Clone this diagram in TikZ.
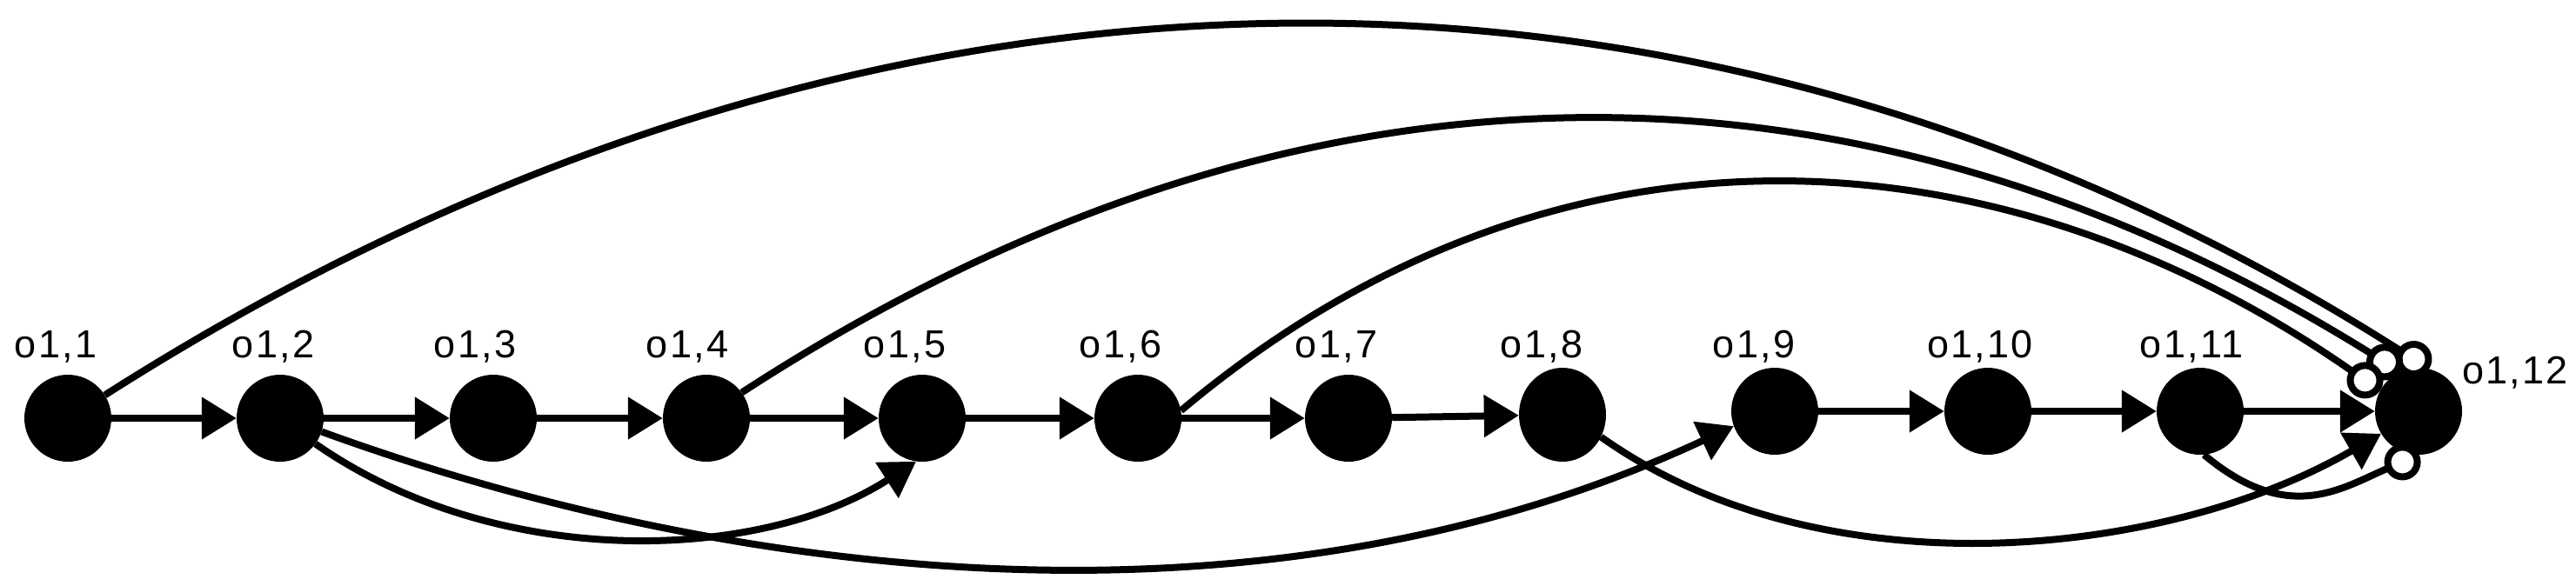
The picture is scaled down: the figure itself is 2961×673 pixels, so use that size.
\documentclass[tikz,border=0pt]{standalone}
\usepackage{fontspec}
\setmainfont{Liberation Sans}
\usetikzlibrary{arrows.meta,shapes.geometric}
\begin{document}
\begin{tikzpicture}[x=1pt,y=-1pt,
  vert/.style={circle,fill=black,inner sep=0pt,minimum size=100pt},
  lab/.style={inner sep=0pt,anchor=base,font=\fontsize{45pt}{52pt}\selectfont\addfontfeature{LetterSpace=5}},
  edge/.style={line width=8pt,-{Triangle[length=40pt,width=47pt]}},
  oedge/.style={line width=8pt,-{Circle[fill=white,length=42pt,width=42pt]}}]
\path[use as bounding box,fill=white] (0,0) rectangle (2961,673);
% vertices
\node[vert] (n1) at (78,481) {};
\node[vert] (n2) at (322,481) {};
\node[vert] (n3) at (567,481) {};
\node[vert] (n4) at (812,481) {};
\node[vert] (n5) at (1060,481) {};
\node[vert] (n6) at (1308,481) {};
\node[vert] (n7) at (1550,481) {};
\node[ellipse,fill=black,inner sep=0pt,minimum width=100pt,minimum height=108pt] (n8) at (1796,477) {};
\node[vert] (n9) at (2040,473) {};
\node[vert] (n10) at (2285,473) {};
\node[vert] (n11) at (2529,473) {};
\node[vert] (n12) at (2780,473) {};
% labels
\node[lab] (l1) at (64,411) {o1,1};
\node[lab] (l2) at (314,411) {o1,2};
\node[lab] (l3) at (546,411) {o1,3};
\node[lab] (l4) at (790,411) {o1,4};
\node[lab] (l5) at (1040,411) {o1,5};
\node[lab] (l6) at (1288,411) {o1,6};
\node[lab] (l7) at (1536,411) {o1,7};
\node[lab] (l8) at (1772,411) {o1,8};
\node[lab] (l9) at (2016,411) {o1,9};
\node[lab] (l10) at (2276,411) {o1,10};
\node[lab] (l11) at (2519,411) {o1,11};
\node[lab,anchor=base west] (l12) at (2830,441) {o1,12};
% straight chain
\draw[edge] (n1) -- (n2);
\draw[edge] (n2) -- (n3);
\draw[edge] (n3) -- (n4);
\draw[edge] (n4) -- (n5);
\draw[edge] (n5) -- (n6);
\draw[edge] (n6) -- (n7);
\draw[edge] (n7) -- (n8);
\draw[edge] (n9) -- (n10);
\draw[edge] (n10) -- (n11);
\draw[edge] (n11) -- (n12);
% long arcs above
\draw[oedge] (n1.32) .. controls (1010,-113) and (1966,-102) .. (n12.76);
\draw[oedge] (n4.36) .. controls (1516,20) and (2160,54) .. (n12.115);
\draw[oedge] (n6.10) .. controls (1806,95) and (2323,160) .. (n12.152);
% arcs below
\draw[edge] (n2.-36) .. controls (574,658) and (875,646) .. (n5.262);
\draw[edge] (n2.-18) .. controls (832,665) and (1447,745) .. (n9.200);
\draw[edge] (n8.-30) .. controls (2094,683) and (2488,643) .. (n12.211);
\draw[oedge] (n11.-85) .. controls (2631,605) and (2692,561) .. (n12.-89);
\end{tikzpicture}
\end{document}
